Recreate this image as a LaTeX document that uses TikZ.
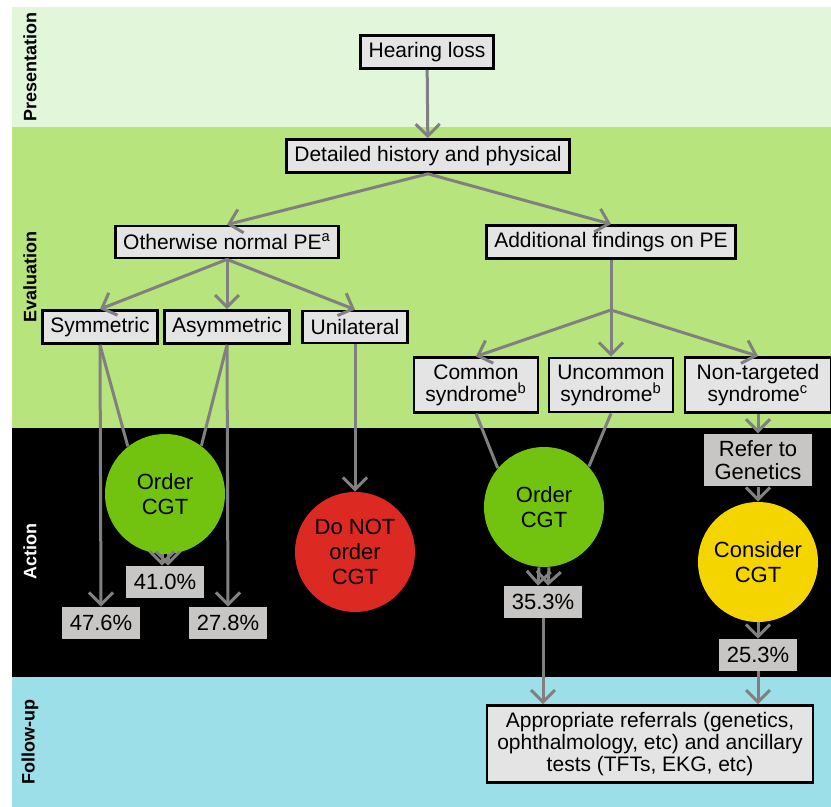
\documentclass[tikz,border=0pt]{standalone}
\usepackage{fontspec}
\setmainfont{Liberation Sans}
\usepackage{tikz}
\usetikzlibrary{shapes,arrows.meta}
\definecolor{palegreen}{RGB}{226,246,217}
\definecolor{leafgreen}{RGB}{184,228,126}
\definecolor{paleaqua}{RGB}{157,223,232}
\definecolor{boxgray}{RGB}{228,228,228}
\definecolor{pctgray}{RGB}{200,197,197}
\definecolor{linegray}{RGB}{128,128,128}
\definecolor{ordergreen}{RGB}{114,195,15}
\definecolor{stopred}{RGB}{220,42,35}
\definecolor{maybeyellow}{RGB}{245,213,0}
\tikzstyle{block} = [rectangle, draw, fill=boxgray, line width=1.4pt,
    inner xsep=4pt, minimum height=16pt, align=center, font=\fontsize{10.5}{11}\selectfont]
\tikzstyle{pct} = [rectangle, fill=pctgray, minimum width=39pt, minimum height=16pt,
    align=center, font=\fontsize{11}{11.5}\selectfont]
\tikzstyle{decision} = [circle, minimum size=60pt, inner sep=0pt, align=center,
    font=\fontsize{11}{12.5}\selectfont]
\tikzstyle{phase} = [rotate=90, font=\fontsize{9}{10}\selectfont\bfseries]
\tikzstyle{line} = [draw, linegray, line width=1.5pt]
\tikzstyle{arrow} = [line, -{Straight Barb[length=6pt,width=12pt,line width=1.5pt]}]

\begin{document}
\begin{tikzpicture}[x=0.5pt,y=-0.5pt]
      \useasboundingbox (0,0) rectangle (831,807);
      \fill[palegreen] (12,7) rectangle (831,127);
      \fill[leafgreen] (12,127) rectangle (831,428);
      \fill[black] (12,428) rectangle (831,677);
      \fill[paleaqua] (12,677) rectangle (831,807);
      \node[phase] (pres) at (30,67) {Presentation};
      \node[phase] (eval) at (30,277) {Evaluation};
      \node[phase,white] (act) at (30,552) {Action};
      \node[phase] (fup) at (30,742) {Follow-up};

      \node[block] (hear) at (427,52) {Hearing loss};
      \node[block] (hist) at (428,156) {Detailed history and physical};
      \node[block] (norm) at (227,242) {Otherwise normal PE\textsuperscript{a}};
      \node[block] (addf) at (611,242) {Additional findings on PE};
      \node[block] (sym) at (100,327) {Symmetric};
      \node[block] (asym) at (227,327) {Asymmetric};
      \node[block] (unil) at (355,327) {Unilateral};
      \node[block,minimum width=62pt,minimum height=27pt] (comm) at (476,385) {Common\\syndrome\textsuperscript{b}};
      \node[block,minimum width=62pt,minimum height=27pt] (unco) at (611,385) {Uncommon\\syndrome\textsuperscript{b}};
      \node[block,minimum width=73pt,minimum height=27pt] (nont) at (758,385) {Non-targeted\\syndrome\textsuperscript{c}};

      \node[decision,fill=ordergreen] (ordl) at (165,494) {Order\\CGT};
      \node[pct] (p410) at (165,582) {41.0\%};
      \node[pct] (p476) at (101,623) {47.6\%};
      \node[pct] (p278) at (228,623) {27.8\%};
      \node[decision,fill=stopred] (dont) at (355,552) {Do NOT\\order\\CGT};
      \node[decision,fill=ordergreen] (ordr) at (544,507) {Order\\CGT};
      \node[pct] (p353) at (543,602) {35.3\%};
      \node[pct,minimum width=54pt,minimum height=25.5pt] (refg) at (758,460) {Refer to\\Genetics};
      \node[decision,fill=maybeyellow] (cons) at (758,562) {Consider\\CGT};
      \node[pct] (p253) at (758,655) {25.3\%};
      \node[block,minimum width=163pt,minimum height=38pt] (refs) at (650,744) {Appropriate referrals (genetics,\\ophthalmology, etc) and ancillary\\tests (TFTs, EKG, etc)};

      \coordinate (fork) at (611,310);
      \draw[arrow] (hear) -- (hist);
      \draw[arrow] (hist.south) -- (norm.north);
      \draw[arrow] (hist.south) -- (addf.north);
      \draw[arrow] (norm.south) -- (sym.north);
      \draw[arrow] (norm.south) -- (asym.north);
      \draw[arrow] (norm.south) -- (unil.north);
      \draw[line] (addf.south) -- (fork);
      \draw[arrow] (fork) -- (comm.north);
      \draw[arrow] (fork) -- (unco.north);
      \draw[arrow] (fork) -- (nont.north);
      \draw[arrow] (sym.south) -- (p476.north);
      \draw[line] (sym.south) -- (ordl.128);
      \draw[arrow] (asym.south) -- (p278.north);
      \draw[line] (asym.south) -- (ordl.53);
      \draw[arrow] ([xshift=-1.5pt]ordl.south) -- ([xshift=-1.5pt]p410.north);
      \draw[arrow] ([xshift=1.5pt]ordl.south) -- ([xshift=1.5pt]p410.north);
      \draw[arrow] (unil) -- (dont);
      \draw[line] (comm.south) -- (ordr.140);
      \draw[line] (unco.south) -- (ordr.42);
      \draw[arrow] ([xshift=-2.5pt]ordr.south) -- ([xshift=-2.5pt]p353.north);
      \draw[arrow] ([xshift=2.5pt]ordr.south) -- ([xshift=2.5pt]p353.north);
      \draw[arrow] (p353.south) -- (p353.south |- refs.north);
      \draw[arrow] (nont) -- (refg);
      \draw[arrow] (refg) -- (cons);
      \draw[arrow] (cons) -- (p253);
      \draw[arrow] (p253.south) -- (p253.south |- refs.north);
    \end{tikzpicture}
\end{document}
